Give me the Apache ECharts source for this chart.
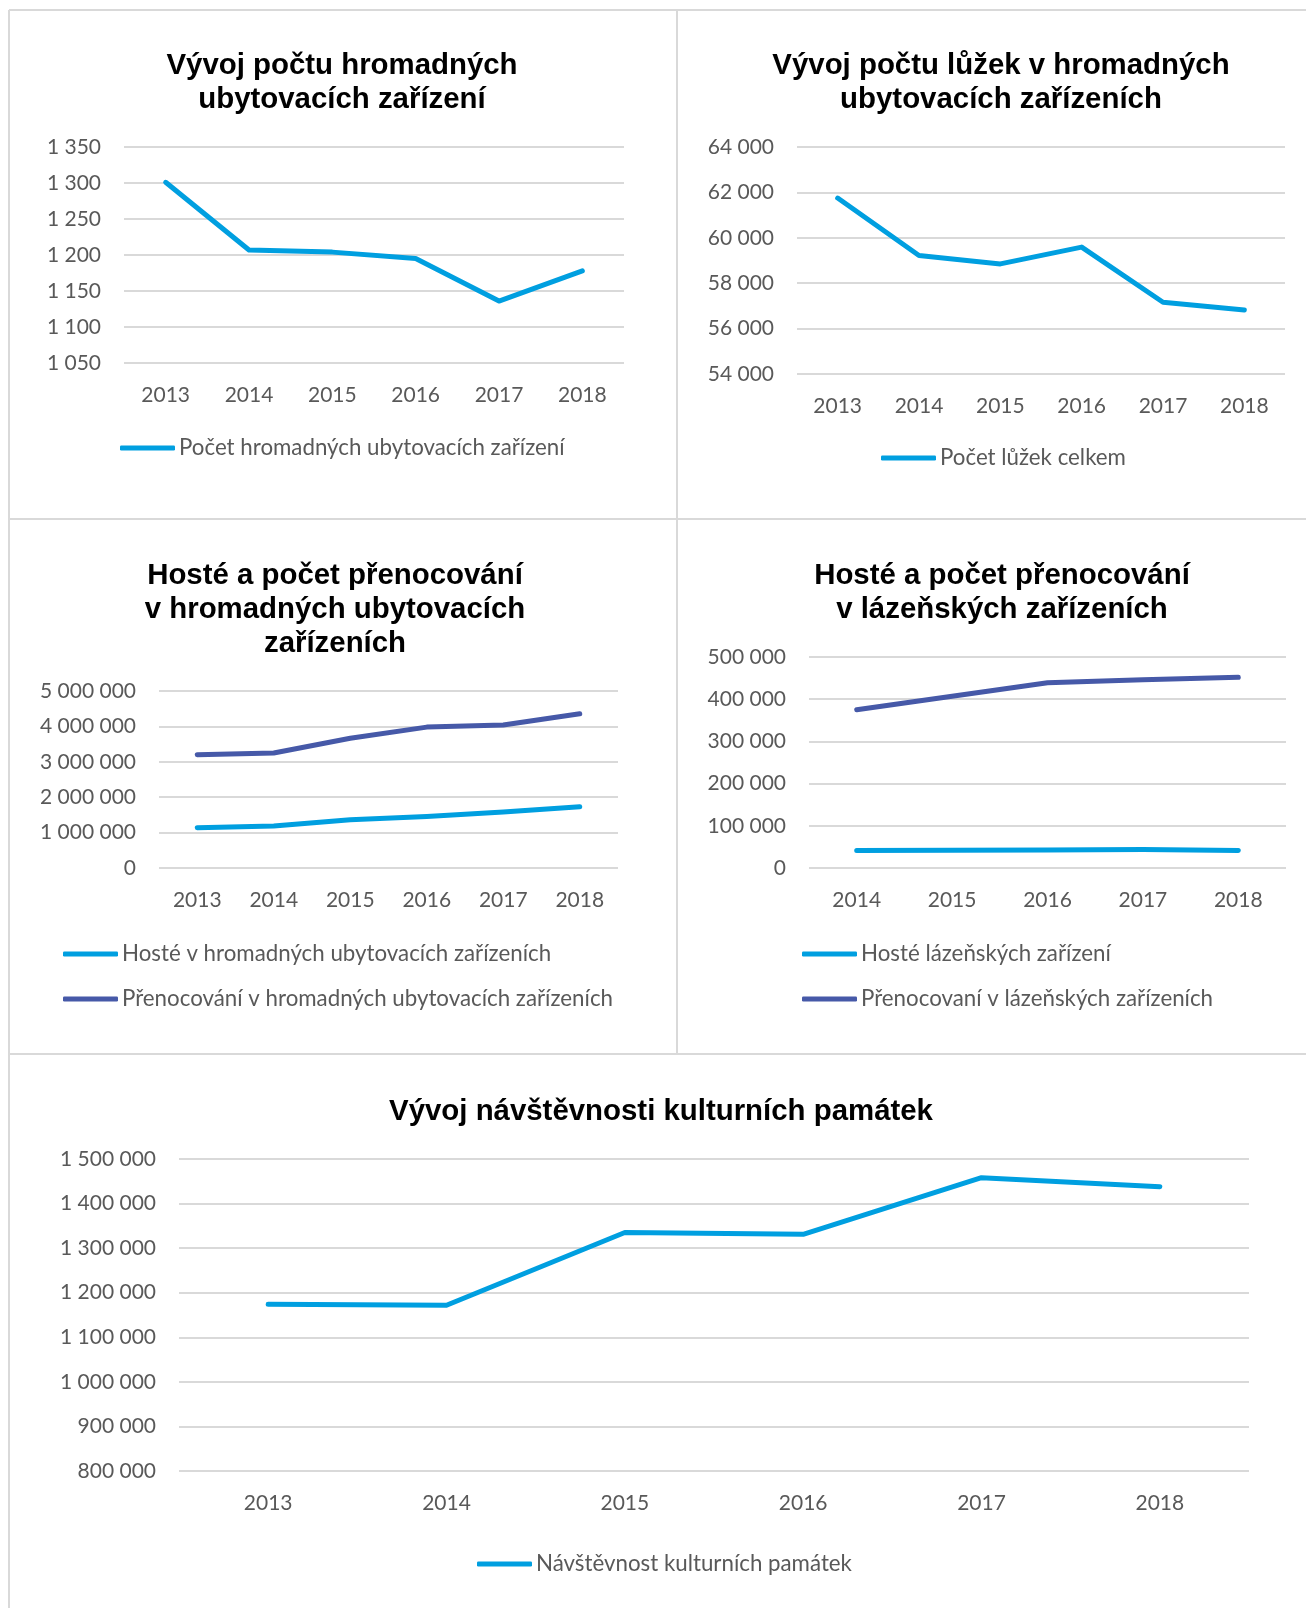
<!DOCTYPE html>
<html>
<head>
<meta charset="utf-8">
<script src="https://cdn.jsdelivr.net/npm/echarts@6/dist/echarts.min.js"></script>
<style>
  html, body { margin: 0; padding: 0; background: #fff; }
  #chart { width: 1306px; height: 1608px; }
</style>
</head>
<body>
<div id="chart"></div>
<script>
// data
const years = ['2013', '2014', '2015', '2016', '2017', '2018'];
const spaYears = ['2014', '2015', '2016', '2017', '2018'];

const facilities = [1301, 1207, 1204, 1195, 1136, 1178];
const facilitiesTicks = [1050, 1100, 1150, 1200, 1250, 1300, 1350];

const beds = [61750, 59220, 58850, 59590, 57160, 56820];
const bedsTicks = [54000, 56000, 58000, 60000, 62000, 64000];

const guestsColl = [1139000, 1188000, 1366000, 1455000, 1584000, 1733000];
const nightsColl = [3198000, 3248000, 3663000, 3980000, 4040000, 4356000];
const collTicks = [0, 1000000, 2000000, 3000000, 4000000, 5000000];

const guestsSpa = [41700, 42000, 42500, 44000, 41700];
const nightsSpa = [375000, 407000, 439000, 446000, 452000];
const spaTicks = [0, 100000, 200000, 300000, 400000, 500000];

const monuments = [1174000, 1172000, 1335000, 1331000, 1458000, 1438000];
const monumentsTicks = [800000, 900000, 1000000, 1100000, 1200000, 1300000, 1400000, 1500000];

const LIGHT = '#009fe0';
const DARK = '#4659a8';
const GRID_GRAY = '#d9d9d9';
const TEXT_GRAY = '#595959';

const fmt = v => String(v).replace(/\B(?=(\d{3})+(?!\d))/g, ' ');

const chart = echarts.init(document.getElementById('chart'));

function xAxis(gridIndex, data) {
    return {
        type: 'category',
        gridIndex: gridIndex,
        data: data,
        boundaryGap: true,
        axisLine: { show: false },
        axisTick: { show: false },
        axisLabel: { color: TEXT_GRAY, fontSize: 21, fontFamily: 'Lato', margin: 22 }
    };
}

function yAxis(gridIndex, ticks) {
    return {
        type: 'value',
        gridIndex: gridIndex,
        min: ticks[0],
        max: ticks[ticks.length - 1],
        interval: ticks[1] - ticks[0],
        axisLine: { show: false },
        axisTick: { show: false },
        axisLabel: { color: TEXT_GRAY, fontSize: 21, fontFamily: 'Lato', margin: 23, formatter: fmt },
        splitLine: { lineStyle: { color: GRID_GRAY, width: 2 } }
    };
}

function line(name, idx, data, color) {
    return {
        name: name,
        type: 'line',
        xAxisIndex: idx,
        yAxisIndex: idx,
        data: data,
        showSymbol: false,
        color: color,
        lineStyle: { width: 5, color: color, cap: 'round', join: 'round' }
    };
}

const titleStyle = { fontFamily: 'Liberation Sans', fontWeight: 'bold', fontSize: 29.4, lineHeight: 34, color: '#000' };

function title(text, left, top) {
    return { text: text, left: left, top: top, padding: 0, textAlign: 'center', textStyle: titleStyle };
}

function legend(items, left, top, vertical) {
    return {
        data: items,
        left: left,
        top: top,
        padding: 0,
        orient: vertical ? 'vertical' : 'horizontal',
        itemGap: 19,
        icon: 'roundRect',
        itemWidth: 55,
        itemHeight: 5,
        selectedMode: false,
        textStyle: { color: TEXT_GRAY, fontSize: 22.3, fontFamily: 'Lato', lineHeight: 26, padding: [0, 0, 0, -1] }
    };
}

const border = { stroke: GRID_GRAY, lineWidth: 2 };

const option = {
    backgroundColor: '#fff',
    animation: false,
    title: [
        title('Vývoj počtu hromadných\nubytovacích zařízení', 342, 49),
        title('Vývoj počtu lůžek v hromadných\nubytovacích zařízeních', 1001, 49),
        title('Hosté a počet přenocování\nv hromadných ubytovacích\nzařízeních', 335, 559),
        title('Hosté a počet přenocování\nv lázeňských zařízeních', 1002, 559),
        title('Vývoj návštěvnosti kulturních památek', 661, 1095)
    ],
    legend: [
        legend(['Počet hromadných ubytovacích zařízení'], 120, 435, false),
        legend(['Počet lůžek celkem'], 881, 445, false),
        legend(['Hosté v hromadných ubytovacích zařízeních', 'Přenocování v hromadných ubytovacích zařízeních'], 63, 941, true),
        legend(['Hosté lázeňských zařízení', 'Přenocovaní v lázeňských zařízeních'], 802, 941, true),
        legend(['Návštěvnost kulturních památek'], 477, 1551, false)
    ],
    grid: [
        { left: 124, top: 147, width: 500, height: 216 },
        { left: 797, top: 147, width: 488, height: 227 },
        { left: 159, top: 691, width: 459, height: 177 },
        { left: 809, top: 657, width: 477, height: 211 },
        { left: 179, top: 1159, width: 1070, height: 312 }
    ],
    xAxis: [
        xAxis(0, years),
        xAxis(1, years),
        xAxis(2, years),
        xAxis(3, spaYears),
        xAxis(4, years)
    ],
    yAxis: [
        yAxis(0, facilitiesTicks),
        yAxis(1, bedsTicks),
        yAxis(2, collTicks),
        yAxis(3, spaTicks),
        yAxis(4, monumentsTicks)
    ],
    series: [
        line('Počet hromadných ubytovacích zařízení', 0, facilities, LIGHT),
        line('Počet lůžek celkem', 1, beds, LIGHT),
        line('Hosté v hromadných ubytovacích zařízeních', 2, guestsColl, LIGHT),
        line('Přenocování v hromadných ubytovacích zařízeních', 2, nightsColl, DARK),
        line('Hosté lázeňských zařízení', 3, guestsSpa, LIGHT),
        line('Přenocovaní v lázeňských zařízeních', 3, nightsSpa, DARK),
        line('Návštěvnost kulturních památek', 4, monuments, LIGHT)
    ],
    graphic: [
        // panel frame lines
        { type: 'line', shape: { x1: 9, y1: 10, x2: 1306, y2: 10 }, style: border, silent: true },
        { type: 'line', shape: { x1: 9, y1: 10, x2: 9, y2: 1608 }, style: border, silent: true },
        { type: 'line', shape: { x1: 677, y1: 10, x2: 677, y2: 1054 }, style: border, silent: true },
        { type: 'line', shape: { x1: 9, y1: 519, x2: 1306, y2: 519 }, style: border, silent: true },
        { type: 'line', shape: { x1: 9, y1: 1054, x2: 1306, y2: 1054 }, style: border, silent: true }
    ]
};

chart.setOption(option);
</script>
</body>
</html>
